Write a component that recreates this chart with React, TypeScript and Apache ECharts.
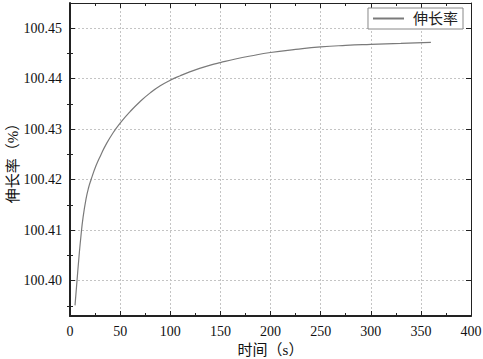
import React, { useEffect, useRef } from "react";
import * as echarts from "echarts";

const timeS = [5, 7, 9, 11, 13, 16, 18.5, 21, 26, 31, 36, 43, 50, 60, 70, 80, 90, 100, 110, 120, 130, 140, 150, 165, 180, 200, 225, 250, 275, 300, 330, 360];
const elongation = [100.3951, 100.4, 100.4048, 100.409, 100.4125, 100.4162, 100.4184, 100.42, 100.4228, 100.425, 100.427, 100.4293, 100.4312, 100.4335, 100.4355, 100.4372, 100.4386, 100.4397, 100.4406, 100.4414, 100.4421, 100.4427, 100.4432, 100.4439, 100.4445, 100.4452, 100.4458, 100.4463, 100.4466, 100.4468, 100.447, 100.4472];
const yMinorTicks = [100.395, 100.405, 100.415, 100.425, 100.435, 100.445];
const seriesName = "伸长率";
const xTitle = "时间（s）";
const yTitle = "伸长率（%）";

const FONT = "Liberation Serif, Noto Sans CJK SC, serif";

export default function App() {
  const ref = useRef<HTMLDivElement>(null);
  useEffect(() => {
    document.body.style.margin = "0";
    const chart = echarts.init(ref.current!, null, { renderer: "svg" });
    const yMin = 100.393;
    const yMax = 100.455;
    const line = (w: number) => ({ show: true, onZero: false, lineStyle: { color: "#222", width: w } });
    const hidden = { show: false };
    chart.setOption({
      animation: false,
      backgroundColor: "#fff",
      textStyle: { fontFamily: FONT },
      grid: { left: 70, right: 12, top: 3, bottom: 43, outerBoundsMode: "none", containLabel: false },
      legend: {
        show: true,
        right: 20,
        top: 8,
        padding: [3, 5, 3, 5],
        borderColor: "#888",
        borderWidth: 1,
        backgroundColor: "#fff",
        itemWidth: 31,
        itemHeight: 2,
        textStyle: { fontFamily: FONT, fontSize: 15, color: "#222", padding: [0, 0, 0, 4] },
        data: [{ name: seriesName, icon: "rect" }],
      },
      xAxis: [
        {
          type: "value",
          position: "bottom",
          min: 0,
          max: 400,
          interval: 50,
          name: xTitle,
          nameLocation: "middle",
          nameGap: 26,
          nameMoveOverlap: false,
          nameTextStyle: { fontFamily: FONT, fontSize: 15, color: "#111" },
          axisLine: line(2),
          axisTick: { show: true, inside: true, length: 5, lineStyle: { color: "#222", width: 1 } },
          minorTick: { show: true, splitNumber: 2, length: 3, lineStyle: { color: "#222", width: 1 } },
          axisLabel: { fontFamily: FONT, fontSize: 14, color: "#111", margin: 8 },
          splitLine: { show: true, lineStyle: { color: "#c4c4c4", type: [2, 2], width: 1 } },
        },
        {
          type: "value",
          position: "top",
          min: 0,
          max: 400,
          interval: 50,
          axisLine: line(1),
          axisTick: { show: true, inside: true, length: 5, lineStyle: { color: "#222", width: 1 } },
          minorTick: { show: true, splitNumber: 2, length: 3, lineStyle: { color: "#222", width: 1 } },
          axisLabel: hidden,
          splitLine: hidden,
        },
      ],
      yAxis: [
        {
          type: "value",
          position: "left",
          min: yMin,
          max: yMax,
          splitNumber: 5,
          name: yTitle,
          nameLocation: "middle",
          nameGap: 50,
          nameRotate: 90,
          nameMoveOverlap: false,
          nameTextStyle: { fontFamily: FONT, fontSize: 15, color: "#111" },
          axisLine: line(2),
          axisTick: { show: true, inside: true, length: 5, lineStyle: { color: "#222", width: 1 } },
          axisLabel: {
            fontFamily: FONT,
            fontSize: 14,
            color: "#111",
            margin: 8,
            showMinLabel: false,
            showMaxLabel: false,
            formatter: (v: number) => v.toFixed(2),
          },
          splitLine: { show: true, lineStyle: { color: "#c4c4c4", type: [2, 2], width: 1 } },
        },
        {
          type: "value",
          position: "right",
          min: yMin,
          max: yMax,
          splitNumber: 5,
          axisLine: line(1),
          axisTick: { show: true, inside: true, length: 5, lineStyle: { color: "#222", width: 1 } },
          axisLabel: hidden,
          splitLine: hidden,
        },
        {
          type: "value",
          position: "left",
          min: yMin,
          max: yMax,
          axisLine: hidden,
          axisTick: { show: true, inside: true, length: 3, customValues: yMinorTicks, lineStyle: { color: "#222", width: 1 } },
          axisLabel: hidden,
          splitLine: hidden,
        },
        {
          type: "value",
          position: "right",
          min: yMin,
          max: yMax,
          axisLine: hidden,
          axisTick: { show: true, inside: true, length: 3, customValues: yMinorTicks, lineStyle: { color: "#222", width: 1 } },
          axisLabel: hidden,
          splitLine: hidden,
        },
      ],
      series: [
        {
          name: seriesName,
          type: "line",
          xAxisIndex: 0,
          yAxisIndex: 0,
          data: timeS.map((t, i) => [t, elongation[i]]),
          smooth: 0.5,
          symbol: "none",
          lineStyle: { color: "#7a7a7a", width: 1.2 },
          itemStyle: { color: "#7a7a7a" },
        },
      ],
    });
    return () => chart.dispose();
  }, []);
  return <div ref={ref} style={{ width: 483, height: 359 }} />;
}
